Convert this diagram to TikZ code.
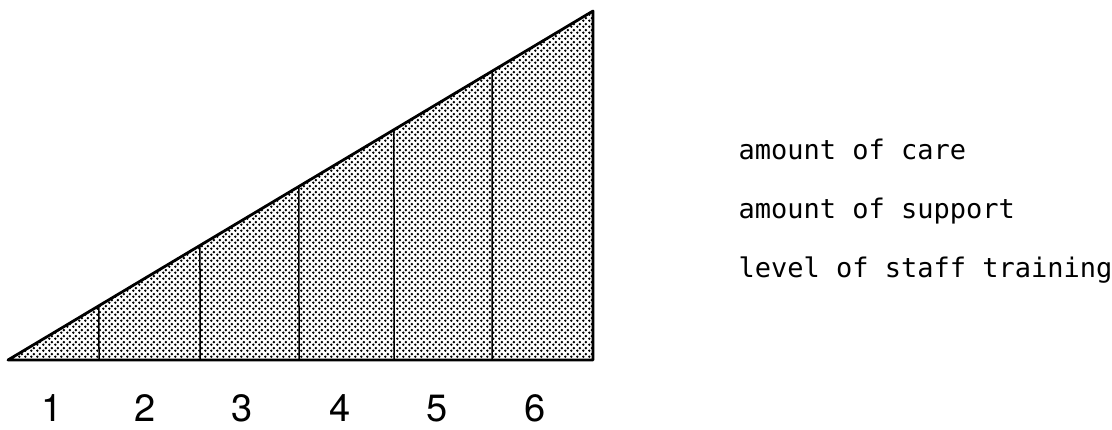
\documentclass[tikz,border=0pt]{standalone}
\usepackage{fontspec}
\newfontfamily\labelfont{DejaVu Sans Mono}
\newfontfamily\digitfont{TeX Gyre Heros}
\usetikzlibrary{calc,patterns.meta}

\tikzdeclarepattern{
  name=stipple,
  bounding box={(0pt,0pt) and (6pt,6pt)},
  tile size={(6pt,6pt)},
  code={
    \fill (1.5pt,1.5pt) circle (1.5pt);
    \fill (4.5pt,4.5pt) circle (1.5pt);
  }
}

\begin{document}
\begin{tikzpicture}[x=1pt,y=-1pt,
  wedge/.style={line width=2.8pt,line join=round,pattern={stipple},pattern color=black},
  divider/.style={line width=1.5pt},
  caption/.style={anchor=base west,font=\labelfont\fontsize{27}{32}\selectfont},
  stage/.style={anchor=base,inner sep=0pt,font=\digitfont\fontsize{38}{44}\selectfont}]
\useasboundingbox (0,0) rectangle (1112,430);

% the wedge
\coordinate (bl) at (8,360);
\coordinate (br) at (593,360);
\coordinate (top) at (593,11);
\draw[wedge] (bl) -- (br) -- (top) -- cycle;

% dividers up to the slope
\foreach \x [count=\i] in {99,200,299,394,492} {
  \coordinate (d\i) at (\x,360);
  \coordinate (u\i) at ($(bl)!{(\x-8)/585}!(top)$);
  \draw[divider] (d\i) -- (u\i);
}

% stages
\foreach \n/\x in {1/52,2/145,3/242,4/340,5/437,6/535}
  \node[stage] (s\n) at (\x,421) {\n};

% captions
\node[caption] (care) at (735,160) {amount of care};
\node[caption] (support) at (735,219) {amount of support};
\node[caption] (training) at (735,278) {level of staff training};
\end{tikzpicture}
\end{document}
